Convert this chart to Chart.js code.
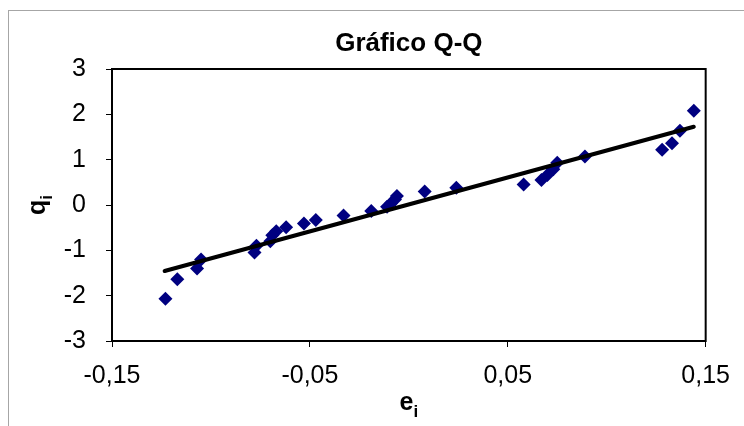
<!DOCTYPE html>
<html><head><meta charset="utf-8">
<script src="https://cdn.jsdelivr.net/npm/chart.js@4.4.1/dist/chart.umd.min.js"></script>
<style>html,body{margin:0;padding:0;background:#fff}#wrap{width:744px;height:426px;position:relative}</style>
</head><body><div id="wrap"><canvas id="c" width="744" height="426"></canvas></div>
<script>
// residuals e_i (x) and normal quantiles q_i (y)
const residuals = [-0.123,-0.117,-0.107,-0.105,-0.078,-0.077,-0.070,-0.069,-0.067,-0.062,-0.053,-0.047,-0.033,-0.019,-0.011,-0.009,-0.007,-0.006,0.008,0.024,0.058,0.067,0.070,0.073,0.075,0.089,0.128,0.133,0.137,0.144];
const quantiles = [-2.07,-1.64,-1.40,-1.20,-1.05,-0.90,-0.80,-0.67,-0.58,-0.49,-0.41,-0.33,-0.23,-0.13,-0.04,0.04,0.12,0.20,0.30,0.38,0.45,0.55,0.66,0.79,0.93,1.07,1.22,1.36,1.64,2.08];
// fitted line end points
const fitX = [-0.1234, 0.1440];
const fitY = [-1.456, 1.727];
const xTicks = [-0.15,-0.05,0.05,0.15];
const yTicks = [-3,-2,-1,0,1,2,3];
const chartTitle = 'Gráfico Q-Q';
const xTitle = ['e','i'];
const yTitle = ['q','i'];

const FONT = '"Liberation Sans", Arial, sans-serif';
const points = residuals.map((x,i)=>({x, y: quantiles[i]}));
const fitLine = fitX.map((x,i)=>({x, y: fitY[i]}));

const decor = {
  id:'decor',
  beforeDraw(chart){
    const ctx = chart.ctx; ctx.save();
    ctx.fillStyle='#fff'; ctx.fillRect(0,0,chart.width,chart.height);
    ctx.strokeStyle='#a6a6a6'; ctx.lineWidth=1;
    ctx.strokeRect(8.5,10.5,900,600);
    ctx.restore();
  },
  beforeDatasetsDraw(chart){
    const ctx = chart.ctx; const a = chart.chartArea; ctx.save();
    ctx.strokeStyle='#000'; ctx.lineWidth=2;
    ctx.strokeRect(a.left, a.top, a.right-a.left, a.bottom-a.top);
    ctx.restore();
  },
  afterDraw(chart){
    const ctx = chart.ctx; const a = chart.chartArea; ctx.save();
    ctx.fillStyle='#000'; ctx.textBaseline='middle'; ctx.textAlign='center';
    const cx = (a.left+a.right)/2;
    ctx.font = 'bold 26px '+FONT;
    ctx.fillText(chartTitle, cx, 44);
    // x title with subscript
    const big = 'bold 25px '+FONT, small = 'bold 17px '+FONT;
    ctx.font = big;
    const w1 = ctx.measureText(xTitle[0]).width;
    ctx.font = small;
    const w2 = ctx.measureText(xTitle[1]).width;
    let sx = cx - (w1+w2)/2;
    ctx.textAlign='left';
    ctx.font = big; ctx.fillText(xTitle[0], sx, 403);
    ctx.font = small; ctx.fillText(xTitle[1], sx+w1, 412);
    // y title rotated
    ctx.translate(38, (a.top+a.bottom)/2);
    ctx.rotate(-Math.PI/2);
    ctx.font = big;
    const v1 = ctx.measureText(yTitle[0]).width;
    ctx.font = small;
    const v2 = ctx.measureText(yTitle[1]).width;
    sx = -(v1+v2)/2;
    ctx.font = big; ctx.fillText(yTitle[0], sx, 0);
    ctx.font = small; ctx.fillText(yTitle[1], sx+v1, 9);
    ctx.restore();
  }
};

new Chart(document.getElementById('c'), {
  data: {
    datasets: [
      { type:'line', data: fitLine, borderColor:'#000', borderWidth:4, pointRadius:0, borderCapStyle:'round', fill:false, order:0 },
      { type:'scatter', data: points, pointStyle:'rectRot', pointRadius:7, pointHoverRadius:7, backgroundColor:'#000080', borderColor:'#000080', borderWidth:0, order:1 }
    ]
  },
  options: {
    responsive:false, animation:false, devicePixelRatio:1,
    layout:{ padding:{ top:69, right:34, left:0, bottom:0 } },
    plugins:{ legend:{display:false}, tooltip:{enabled:false}, title:{display:false} },
    scales:{
      x:{ type:'linear', min:-0.15, max:0.15,
        afterBuildTicks(s){ s.ticks = xTicks.map(v=>({value:v})); },
        afterFit(s){ s.height = 85; },
        border:{display:false},
        grid:{ drawOnChartArea:false, drawTicks:true, tickLength:6, color:'#000', tickColor:'#000', lineWidth:1 },
        ticks:{ color:'#000', font:{ family:FONT, size:25 }, padding:14, maxRotation:0, autoSkip:false,
          callback:(v)=> Number(v).toFixed(2).replace('.',',') }
      },
      y:{ type:'linear', min:-3, max:3,
        afterBuildTicks(s){ s.ticks = yTicks.map(v=>({value:v})); },
        afterFit(s){ s.width = 112; },
        border:{display:false},
        grid:{ drawOnChartArea:false, drawTicks:true, tickLength:6, color:'#000', tickColor:'#000', lineWidth:1 },
        ticks:{ color:'#000', font:{ family:FONT, size:25 }, padding:20, autoSkip:false,
          callback:(v)=> String(v) }
      }
    }
  },
  plugins:[decor]
});
</script></body></html>
